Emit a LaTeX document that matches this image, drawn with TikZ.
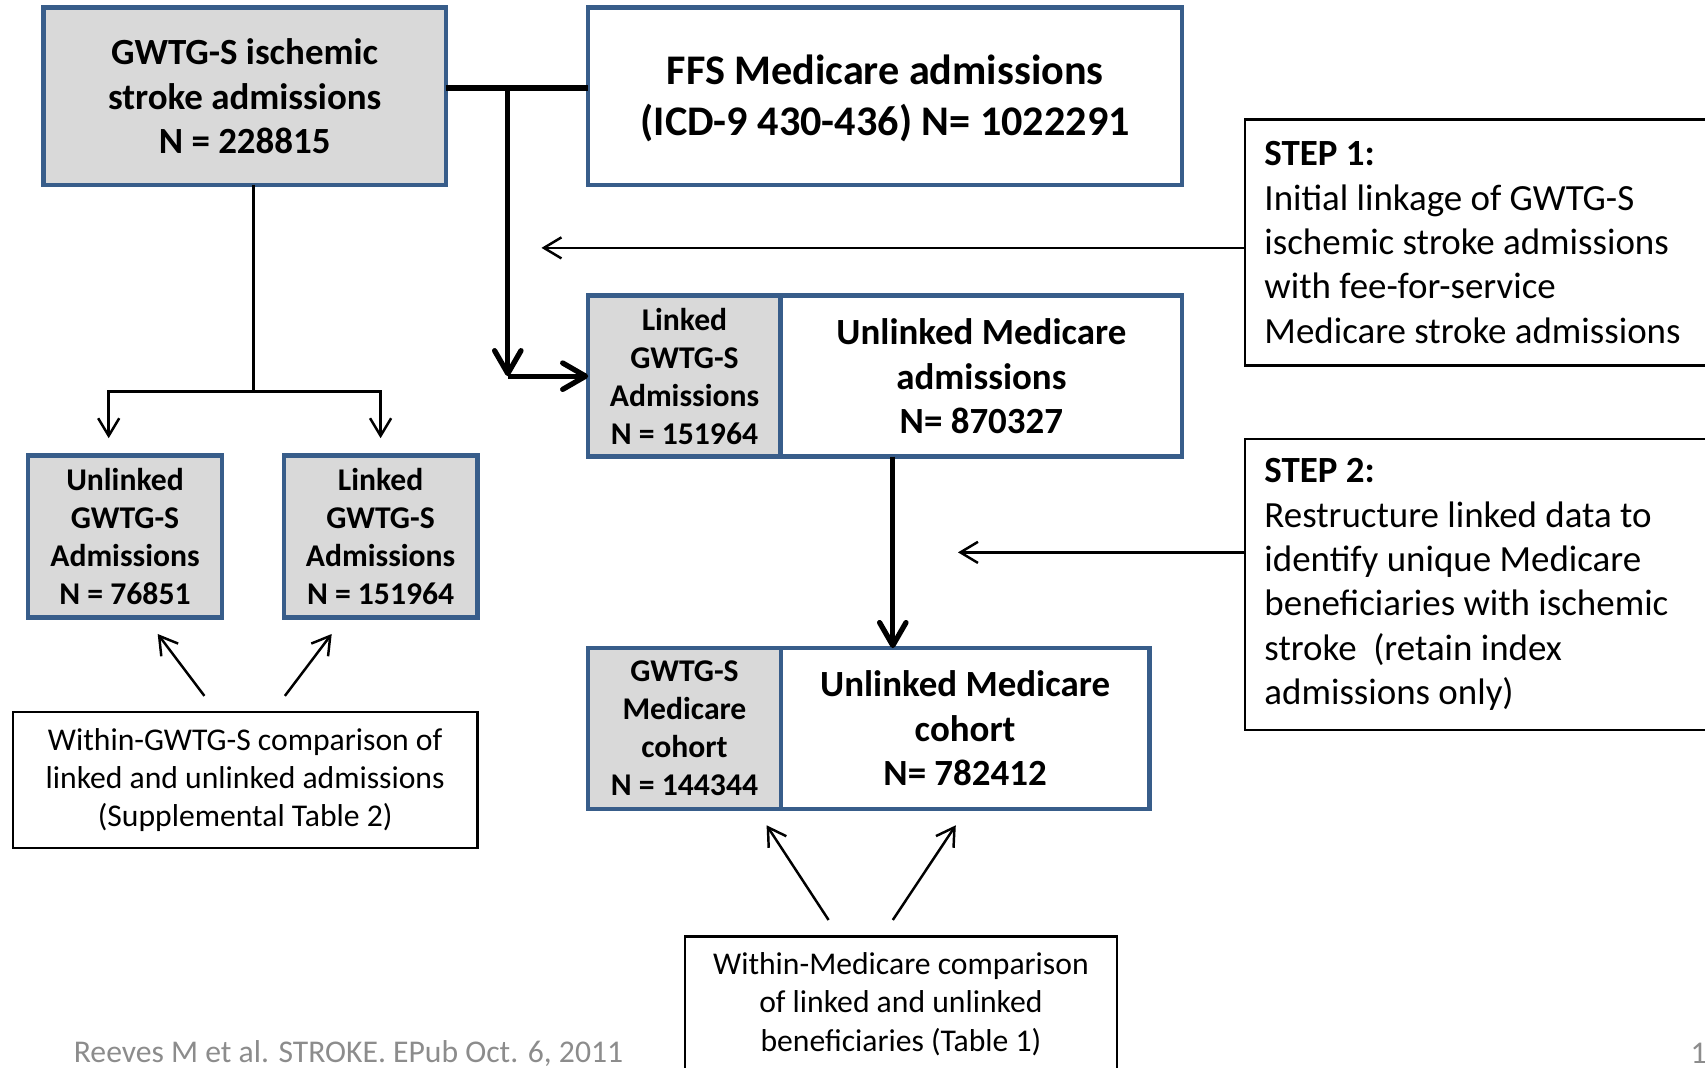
\documentclass[tikz,border=0pt]{standalone}
\usepackage{fontspec}
\setmainfont{Carlito}
\usetikzlibrary{arrows.meta}
\definecolor{boxblue}{RGB}{56,93,138}
\definecolor{boxgray}{RGB}{217,217,217}
\definecolor{citegray}{RGB}{140,140,140}
\begin{document}
\begin{tikzpicture}[x=0.01cm, y=-0.01cm,
    gbox/.style={draw=boxblue, fill=boxgray, line width=1.25pt, inner sep=0pt, outer sep=0pt,
                 align=center, font=\fontsize{9}{10.8}\selectfont\bfseries},
    wbox/.style={draw=boxblue, fill=white, line width=1.25pt, inner sep=0pt, outer sep=0pt,
                 align=center, font=\fontsize{10.5}{12.6}\selectfont\bfseries},
    note/.style={draw=black, fill=white, line width=0.6pt, inner sep=0pt, outer sep=0pt,
                 align=center, font=\fontsize{9}{10.9}\selectfont},
    stepbox/.style={draw=black, line width=0.6pt, inner xsep=5.56pt, inner ysep=0pt, outer sep=0pt,
                 minimum width=4.75cm, text width=4.358cm, align=flush left, font=\fontsize{10.5}{12.6}\selectfont},
    thinline/.style={line width=0.7pt},
    link/.style={line width=0.7pt, -{Straight Barb[length=5pt,width=6pt]}},
    mainflow/.style={line width=1.5pt, -{Straight Barb[length=6.5pt,width=7.5pt,round]}}]
    \useasboundingbox (0,0) rectangle (1705,1068);
    \node[gbox, font=\fontsize{10.5}{12.6}\selectfont\bfseries, minimum width=4.023cm, minimum height=1.773cm]
        (gwtg) at (244.7,96.2) {GWTG-S ischemic\\stroke admissions\\N = 228815};
    \node[wbox, font=\fontsize{12}{14.5}\selectfont\bfseries, minimum width=5.937cm, minimum height=1.773cm,
          text depth=0.4pt] (ffs) at (885.2,96.2) {FFS Medicare admissions\\(ICD-9 430-436) N= 1022291};
    \node[gbox, minimum width=1.925cm, minimum height=1.609cm] (linkadm) at (684.5,376.2)
        {Linked\\GWTG-S\\Admissions\\N = 151964};
    \node[wbox, minimum width=4.012cm, minimum height=1.609cm] (unlinkadm) at (981.4,376.2)
        {Unlinked Medicare\\admissions\\N= 870327};
    \node[gbox, minimum width=1.925cm, minimum height=1.609cm] (linkcoh) at (684.5,728.5)
        {GWTG-S\\Medicare\\cohort\\N = 144344};
    \node[wbox, minimum width=3.686cm, minimum height=1.609cm] (unlinkcoh) at (965.1,728.5)
        {Unlinked Medicare\\cohort\\N= 782412};
    \node[gbox, minimum width=1.935cm, minimum height=1.62cm] (unlinkgw) at (125,536.6)
        {Unlinked\\GWTG-S\\Admissions\\N = 76851};
    \node[gbox, minimum width=1.936cm, minimum height=1.62cm] (linkgw) at (380.6,536.6)
        {Linked\\GWTG-S\\Admissions\\N = 151964};
    \node[note, minimum width=4.644cm, minimum height=1.36cm] (withingw) at (245.2,780.2)
        {Within-GWTG-S comparison of\\linked and unlinked admissions\\(Supplemental Table 2)};
    \node[note, minimum width=4.318cm, minimum height=1.354cm] (withinmc) at (900.9,1004.2)
        {Within-Medicare comparison\\of linked and unlinked\\beneficiaries (Table 1)};
    \node[stepbox, minimum height=2.458cm] (step1) at (1482.5,242.5)
        {\textbf{STEP 1:}\\Initial linkage of GWTG-S\\ischemic stroke admissions\\with fee-for-service\\Medicare stroke admissions};
    \node[stepbox, minimum height=2.903cm] (step2) at (1482.5,584.5)
        {\textbf{STEP 2:}\\Restructure linked data to\\identify unique Medicare\\beneficiaries with ischemic\\stroke~ (retain index\\admissions only)};
    \node[text=citegray, font=\fontsize{9}{10.8}\selectfont] (cite) at (348.5,1053.6)
        {Reeves M et al. STROKE. EPub Oct. 6, 2011};
    \node[text=citegray, font=\fontsize{9}{10.8}\selectfont, anchor=west, inner sep=0pt] (page) at (1690,1053.6) {1};
    \coordinate (join) at (507.8,88.1);
    \coordinate (turn) at (507.8,376.2);
    \coordinate (drop) at (892.8,648.1);
    \coordinate (split) at (253.4,391.5);
    \coordinate (unlinkgwin) at (108.7,438.2);
    \coordinate (linkgwin) at (380.6,438.2);
    \coordinate (step1tip) at (541.5,247.9);
    \coordinate (step2tip) at (958,552.4);
    \coordinate (wgfoot1) at (204.4,695.9);
    \coordinate (wghead1) at (157.7,634);
    \coordinate (wgfoot2) at (284.9,695.9);
    \coordinate (wghead2) at (331.7,634);
    \coordinate (wmfoot1) at (828.6,920);
    \coordinate (wmhead1) at (766.6,825.3);
    \coordinate (wmfoot2) at (892.8,920);
    \coordinate (wmhead2) at (955.8,825.3);
    \draw[line width=1.9pt] (gwtg.east |- join) -- (ffs.west |- join);
    \draw[mainflow] (join) -- (turn);
    \draw[mainflow] (turn) -- (linkadm.west);
    \draw[mainflow] (unlinkadm.south -| drop) -- (drop);
    \draw[thinline] (gwtg.south -| split) -- (split);
    \draw[link] (split) -| (unlinkgwin);
    \draw[link] (split) -| (linkgwin);
    \draw[link] (step1.west |- step1tip) -- (step1tip);
    \draw[link] (step2.west |- step2tip) -- (step2tip);
    \draw[link] (wgfoot1) -- (wghead1);
    \draw[link] (wgfoot2) -- (wghead2);
    \draw[link] (wmfoot1) -- (wmhead1);
    \draw[link] (wmfoot2) -- (wmhead2);
\end{tikzpicture}
\end{document}
